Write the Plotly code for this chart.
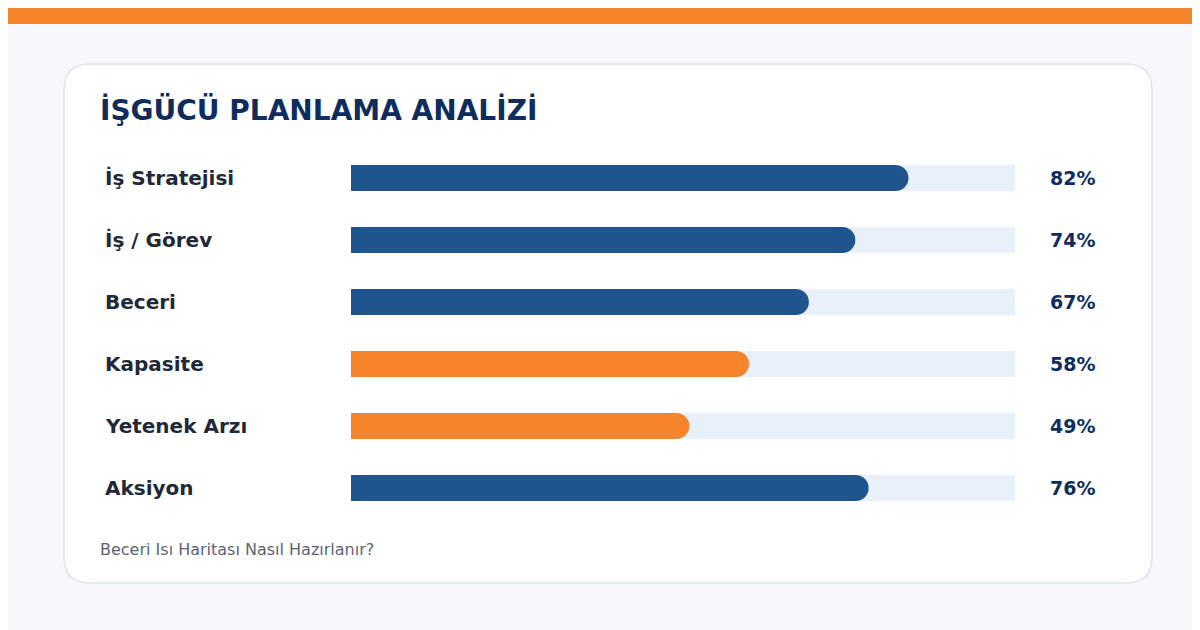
import plotly.graph_objects as go

categories = ["İş Stratejisi", "İş / Görev", "Beceri", "Kapasite", "Yetenek Arzı", "Aksiyon"]
values = [82, 74, 67, 58, 49, 76]
colors = ["#1f548c", "#1f548c", "#1f548c", "#f5842a", "#f5842a", "#1f548c"]
title = "İŞGÜCÜ PLANLAMA ANALİZİ"
footer = "Beceri Isı Haritası Nasıl Hazırlanır?"

W, H = 1200, 630
def px(x): return x / W
def py(y): return 1 - y / H

fig = go.Figure()
BW = 26
for cat, v, c in zip(categories, values, colors):
    fig.add_trace(go.Scatter(x=[0, 100], y=[cat, cat], mode="lines+markers",
                             line=dict(color="#e8f0fa", width=BW),
                             marker=dict(color="#e8f0fa", size=BW), hoverinfo="skip", showlegend=False))
for cat, v, c in zip(categories, values, colors):
    fig.add_trace(go.Scatter(x=[0, v], y=[cat, cat], mode="lines+markers",
                             line=dict(color=c, width=BW),
                             marker=dict(color=c, size=BW), showlegend=False))

shapes = [dict(type="rect", xref="paper", yref="paper", x0=0, x1=1, y0=py(16), y1=1,
               fillcolor="#f5842a", line_width=0, layer="below")]
# card with rounded corners
x0, x1, y0, y1, r = 56, 1144, 56, 575, 26
path = (f"M {px(x0+r)} {py(y0)} L {px(x1-r)} {py(y0)} Q {px(x1)} {py(y0)} {px(x1)} {py(y0+r)} "
        f"L {px(x1)} {py(y1-r)} Q {px(x1)} {py(y1)} {px(x1-r)} {py(y1)} "
        f"L {px(x0+r)} {py(y1)} Q {px(x0)} {py(y1)} {px(x0)} {py(y1-r)} "
        f"L {px(x0)} {py(y0+r)} Q {px(x0)} {py(y0)} {px(x0+r)} {py(y0)} Z")
shapes.append(dict(type="path", xref="paper", yref="paper", path=path,
                   fillcolor="white", line=dict(color="#dde3ec", width=1.5), layer="below"))

ann = [dict(text=f"<b>{title}</b>", xref="paper", yref="paper", x=px(90), y=py(102),
            xanchor="left", yanchor="middle", showarrow=False,
            font=dict(family="DejaVu Sans", size=28, color="#0f2d5c")),
       dict(text=footer, xref="paper", yref="paper", x=px(90), y=py(541),
            xanchor="left", yanchor="middle", showarrow=False,
            font=dict(family="DejaVu Sans", size=16, color="#5b6473"))]
for cat, v in zip(categories, values):
    ann.append(dict(text=f"<b>{cat}</b>", xref="paper", yref="y", x=px(95), y=cat,
                    xanchor="left", yanchor="middle", showarrow=False,
                    font=dict(family="DejaVu Sans", size=20, color="#1f2937")))
    ann.append(dict(text=f"<b>{v}%</b>", xref="paper", yref="y", x=px(1040), y=cat,
                    xanchor="left", yanchor="middle", showarrow=False,
                    font=dict(family="DejaVu Sans", size=19, color="#0f2d5c")))

fig.update_layout(width=W, height=H, margin=dict(l=0, r=0, t=0, b=0),
                  paper_bgcolor="#f6f8fb", plot_bgcolor="rgba(0,0,0,0)",
                  shapes=shapes, annotations=ann,
                  xaxis=dict(domain=[px(343), px(1007)], range=[0, 100], visible=False, fixedrange=True),
                  yaxis=dict(domain=[py(511), py(139)], range=[5.5, -0.5], type="category",
                             visible=False, fixedrange=True))
fig.write_html("out.html", config={"displayModeBar": False})
